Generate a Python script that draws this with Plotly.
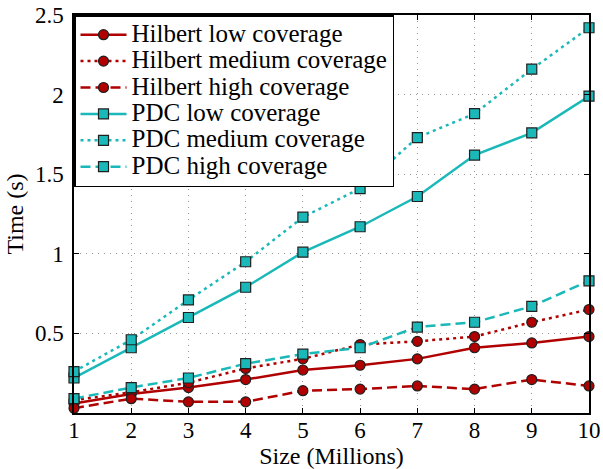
import plotly.graph_objects as go

sizes = [1, 2, 3, 4, 5, 6, 7, 8, 9, 10]

hilbert_low = [0.06, 0.12, 0.16, 0.21, 0.27, 0.30, 0.34, 0.41, 0.44, 0.48]
hilbert_medium = [0.08, 0.13, 0.19, 0.28, 0.34, 0.43, 0.45, 0.48, 0.57, 0.65]
hilbert_high = [0.03, 0.09, 0.07, 0.07, 0.14, 0.15, 0.17, 0.15, 0.21, 0.17]
pdc_low = [0.22, 0.41, 0.60, 0.79, 1.01, 1.17, 1.36, 1.62, 1.76, 1.99]
pdc_medium = [0.26, 0.46, 0.71, 0.95, 1.23, 1.41, 1.73, 1.88, 2.16, 2.42]
pdc_high = [0.09, 0.16, 0.22, 0.31, 0.37, 0.41, 0.54, 0.57, 0.67, 0.83]

y_ticks = [0.5, 1, 1.5, 2, 2.5]
y_tick_text = ["0.5", "1", "1.5", "2", "2.5"]

RED = "#b00000"
CYAN = "#1ab8b8"
DOT = "3px,4px"
DASH = "10px,5px"

series = [
    ("Hilbert low coverage", hilbert_low, RED, "solid", "circle"),
    ("Hilbert medium coverage", hilbert_medium, RED, DOT, "circle"),
    ("Hilbert high coverage", hilbert_high, RED, DASH, "circle"),
    ("PDC low coverage", pdc_low, CYAN, "solid", "square"),
    ("PDC medium coverage", pdc_medium, CYAN, DOT, "square"),
    ("PDC high coverage", pdc_high, CYAN, DASH, "square"),
]

fig = go.Figure()
for name, vals, color, dash, sym in series:
    fig.add_trace(go.Scatter(
        x=sizes, y=vals, name='<span style="font-size:25px">' + name + '</span>',
        mode="lines+markers",
        line=dict(color=color, width=2.5, dash=dash),
        marker=dict(symbol=sym, size=10, color=color,
                    line=dict(color="#202020", width=1.2)),
        cliponaxis=False,
    ))

font_family = "Liberation Serif, Times New Roman, DejaVu Serif, serif"
fig.update_layout(
    width=603, height=469,
    margin=dict(l=74, r=14, t=15, b=56, autoexpand=False),
    paper_bgcolor="white", plot_bgcolor="white",
    font=dict(family=font_family, size=23, color="black"),
    legend=dict(
        x=0, y=1, xanchor="left", yanchor="top",
        bgcolor="white", bordercolor="black", borderwidth=1.5,
        font=dict(family=font_family, size=18, color="black"),
        tracegroupgap=0, itemwidth=46,
    ),
    showlegend=True,
)
GRID = "#999999"
fig.update_xaxes(
    range=[1, 10], tickvals=sizes, ticktext=[str(s) for s in sizes],
    title=dict(text="Size (Millions)", font=dict(size=24), standoff=2),
    automargin=False, ticklabelstandoff=-4,
    showline=True, linecolor="black", linewidth=1.5, mirror="ticks",
    ticks="inside", ticklen=5, tickcolor="black",
    showgrid=True, gridcolor=GRID, griddash="1px,5px", gridwidth=1,
    zeroline=False, tickfont=dict(size=23),
)
fig.update_yaxes(
    range=[0, 2.5], tickvals=y_ticks, ticktext=y_tick_text,
    title=dict(text="Time (s)", font=dict(size=24), standoff=5),
    automargin=False, ticklabelstandoff=4,
    showline=True, linecolor="black", linewidth=1.5, mirror="ticks",
    ticks="inside", ticklen=5, tickcolor="black",
    showgrid=True, gridcolor=GRID, griddash="1px,5px", gridwidth=1,
    zeroline=False, tickfont=dict(size=23),
)

fig.write_html("out.html")
